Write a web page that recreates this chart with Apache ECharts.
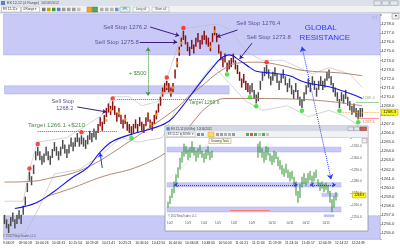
<!DOCTYPE html>
<html>
<head>
<meta charset="utf-8">
<script src="https://cdn.jsdelivr.net/npm/echarts@6/dist/echarts.min.js"></script>
<style>
html,body{margin:0;padding:0;background:#ffffff;}
#chart{width:400px;height:250px;}
</style>
</head>
<body>
<div id="chart"></div>
<script>
// ================= DATA =================
const xTickLabels = ['9:46:09','09:56:18','10:00:26','10:03:31','10:15:54','10:19:09','10:21:41','10:25:21','10:34:16','10:42:50','10:44:00','10:46:08','10:48:00','10:50:03','11:01:21','11:11:34','11:19:09','11:24:10','11:40:17','12:04:59','12:14:22','12:24:39'];
const xTickFirst = 2, xTickStep = 8;
const slotCount = 181;
const rangeSize = 1.0;          // 4 Range bars: every bar spans 1.0 point
const barLows = [
1256.0,1255.5,1255.0,1255.75,1256.25,1255.5,1256.0,1256.5,1256.0,1257.0,
1258.0,1259.5,1260.75,1260.25,1261.5,1263.0,1263.5,1263.0,1262.5,1262.75,
1263.5,1263.0,1262.5,1263.25,1264.0,1263.5,1263.0,1263.5,1264.25,1263.75,
1263.25,1263.75,1264.5,1264.0,1264.5,1265.0,1264.5,1264.75,1264.5,1264.25,
1264.75,1265.25,1265.0,1265.5,1265.25,1266.0,1266.75,1266.25,1267.0,1267.75,
1268.25,1268.0,1268.5,1268.0,1267.25,1267.75,1267.0,1266.5,1267.0,1266.25,
1266.0,1265.75,1266.0,1266.5,1266.0,1266.75,1266.25,1266.0,1266.75,1267.25,
1266.5,1266.25,1267.0,1267.5,1268.25,1269.0,1270.0,1270.5,1270.75,1270.5,
1270.0,1270.5,1272.0,1273.25,1274.5,1275.5,1276.25,1275.75,1275.0,1274.5,
1275.25,1274.75,1275.5,1276.0,1275.25,1275.75,1276.25,1275.75,1275.5,1275.0,
1276.0,1276.75,1276.0,1274.75,1274.0,1273.25,1273.75,1272.75,1273.0,1273.25,
1273.75,1273.0,1272.5,1271.75,1271.0,1271.5,1270.75,1270.5,1270.25,1270.5,
1269.75,1269.25,1269.5,1270.75,1271.75,1272.25,1272.5,1272.0,1271.25,1271.75,
1272.25,1271.5,1270.75,1271.5,1272.0,1271.25,1270.5,1271.0,1270.25,1269.75,
1270.5,1269.75,1269.0,1268.75,1269.5,1270.25,1271.0,1270.5,1271.25,1270.75,
1270.0,1270.75,1271.25,1270.75,1271.0,1271.75,1272.0,1271.25,1270.5,1270.0,
1269.5,1268.75,1269.5,1269.25,1269.75,1269.0,1268.5,1268.0,1268.25,1267.75,
1267.5,1267.75,1267.75
];
const longFrom = 45, longTo = 117;     // dark red (in-trade) bars
const lastPrice = 1268.3;
const orangeDots = [[49,1267.4],[51,1268.5],[55,1268.2],[58,1267.5],[70,1267.0],[73,1268.0],[76,1270.4],[78,1271.1],[80,1270.5],[81,1271.0],[83,1273.7],[84,1275.0],[85,1275.9],[99,1275.5],[101,1277.2]];
const redDots = [[12,1262.1],[16,1264.8],[37,1266.1],[52,1269.8],[78,1272.1],[86,1277.55],[126,1273.8]];
const greenDots = [[61,1265.45],[107,1272.45],[118,1269.95],[121,1268.95],[143,1268.45],[161,1268.45],[170,1267.2]];
const maBlue = [[5,1257.7],[15,1258.3],[24,1259.6],[32,1261.0],[40,1262.2],[46,1263.9],[52,1265.1],[63,1266.0],[71,1266.5],[79,1267.3],[85,1268.8],[90,1270.3],[95,1271.8],[100,1273.2],[104,1274.2],[108,1274.6],[113,1274.0],[118,1273.2],[121,1272.8],[128,1272.6],[137,1272.3],[143,1271.7],[148,1271.4],[156,1271.1],[163,1270.6],[169,1270.1],[172,1269.8]];
const maBrownFast = [[0,1260.6],[14,1260.7],[23,1261.1],[33,1261.6],[43,1262.6],[51,1263.7],[57,1264.6],[71,1266.8],[83,1268.8],[90,1270.3],[95,1271.2],[103,1272.7],[112,1273.7],[122,1273.8],[134,1273.4],[143,1272.9],[162,1272.6],[172,1272.3]];
const maBrownSlow = [[20,1259.0],[32,1259.9],[47,1261.2],[63,1262.2],[78,1263.9],[85,1265.6],[92,1267.6],[98,1269.0],[106,1269.8],[119,1269.8],[143,1269.7],[159,1269.4],[172,1269.0]];
const chanUpper = [[0,1258.5],[9,1258.5],[12,1262],[16,1265],[30,1265.5],[37,1266.5],[47,1268],[52,1270],[60,1270],[66,1269],[74,1269.5],[78,1272],[84,1276],[86,1277.5],[102,1278],[108,1277.5],[116,1275],[124,1274],[134,1274],[148,1272.5],[156,1273.2],[166,1272.5],[172,1271]];
const chanLower = [[0,1254.8],[10,1255],[16,1257.5],[24,1261.5],[36,1262],[46,1263.5],[56,1265.5],[64,1265],[76,1265.5],[82,1268.5],[90,1270.5],[100,1273.5],[108,1271.5],[116,1269.5],[124,1268.5],[136,1269],[146,1267.8],[156,1268.5],[164,1267.8],[172,1266.5]];

// inset (multi-day chart)
const insetSlots = 87;
const insetTickIdx = [1,10,18,25,33,42,52,61,69,79];
const insetTickLabels = ['10/2','10/3','10/4','10/5','10/8','10/9','10/10','10/11','10/12','10/15'];
const insetLows = [1258,1261,1266,1270,1276,1283,1290,1296,1301,1303,1298,1300,1304,1302,1297,1300,1303,1300,1296,1299,1302,1298,1300,
null,null,null,null,null,null,null,null,null,null,null,null,null,null,null,null,null,null,null,null,null,null,
1300,1304,1300,1296,1298,1302,1297,1294,1296,1299,1293,1290,
1286,1284,1287,1283,1280,1282,1276,1268,1262,1266,
1275,1278,1276,1279,1281,1277,1280,1283,
1276,1272,1274,1271,1273,1270,1262,1254,1258,1264];
const insetHighs = [1263,1268,1274,1280,1286,1292,1300,1305,1312,1310,1307,1309,1314,1309,1306,1308,1311,1306,1304,1307,1310,1305,1306,
null,null,null,null,null,null,null,null,null,null,null,null,null,null,null,null,null,null,null,null,null,null,
1312,1314,1308,1305,1310,1309,1304,1302,1306,1305,1301,1298,
1294,1291,1295,1290,1288,1289,1284,1280,1272,1278,
1284,1287,1283,1287,1289,1285,1288,1290,
1282,1279,1280,1278,1279,1277,1272,1265,1268,1271];

// ================= STYLE / BUILD =================
const FONT = 'Liberation Sans';
const BAND = '#c9c9f8', BAND_EDGE = '#a9a9ee';
const PURPLE_T = '#5f5192', PURPLE_A = '#3b1d7c', GREEN_T = '#4f8c4f', BLUE_T = '#2c3cf5';

const mainCats = Array.from({length: slotCount}, (_, i) => String(i));
const insetCats = Array.from({length: insetSlots}, (_, i) => String(i));
const barData = barLows.map((lo, i) => [i, lo, lo + rangeSize, (i >= longFrom && i <= longTo) ? 1 : 0]);
const insetData = [];
insetLows.forEach((lo, j) => { if (lo !== null) insetData.push([j, lo, insetHighs[j]]); });

function mainBar(params, api) {
  const a = api.coord([api.value(0), api.value(1)]);
  const b = api.coord([api.value(0), api.value(2)]);
  return {type: 'line', shape: {x1: a[0], y1: a[1], x2: b[0], y2: b[1]},
    style: {stroke: api.value(3) ? '#8c1111' : '#4c4c4c', lineWidth: 1.5}};
}
function insetBar(params, api) {
  const a = api.coord([api.value(0), api.value(1)]);
  const b = api.coord([api.value(0), api.value(2)]);
  return {type: 'line', shape: {x1: a[0], y1: a[1], x2: b[0], y2: b[1]},
    style: {stroke: '#2b8f2b', lineWidth: 1.0}};
}

function label(text, i, price, color, size) {
  return {coord: [i, price], symbol: 'rect', symbolSize: 1, itemStyle: {color: 'rgba(0,0,0,0)'},
    label: {show: true, position: 'inside', formatter: text, color: color, fontSize: size, fontFamily: FONT}};
}
function arrow(from, to, color, type, both) {
  return [{coord: from, symbol: both ? 'arrow' : 'none', lineStyle: {color: color, width: 1, type: type || 'solid'}},
          {coord: to, symbol: 'arrow'}];
}
function hline(i0, i1, price, color, type, w) {
  return [{coord: [i0, price], symbol: 'none', lineStyle: {color: color, width: w || 0.8, type: type || 'solid'}},
          {coord: [i1, price], symbol: 'none'}];
}

// chrome helpers
function R(x, y, w, h, fill, stroke, z, lw) {
  return {type: 'rect', shape: {x: x, y: y, width: w, height: h}, z: z, silent: true,
    style: {fill: fill, stroke: stroke || null, lineWidth: lw || 0.5}};
}
function T(x, y, s, size, color, z, align) {
  return {type: 'text', x: x, y: y, z: z, silent: true,
    style: {text: s, fontSize: size, fill: color, fontFamily: FONT, textAlign: align || 'left', textVerticalAlign: 'middle', verticalAlign: 'middle'}};
}

const chrome = [];
// main window title bar + toolbar
chrome.push(R(0, 0, 400, 6, '#dde2ea', null, 40));
chrome.push(R(1, 1, 4, 4, '#5b83c4', null, 41));
chrome.push(T(7, 3.2, 'ES 12-12 (4 Range)  10/16/2012', 3.6, '#4a4a4a', 41));
chrome.push(R(374, 0.8, 7, 4.6, '#e4e7ec', '#8a8f99', 41));
chrome.push(R(382, 0.8, 7, 4.6, '#e4e7ec', '#8a8f99', 41));
chrome.push(R(390, 0.8, 8, 4.6, '#e4e7ec', '#8a8f99', 41));
chrome.push(R(0, 6, 400, 7, '#f1f2f4', null, 40));
chrome.push(R(0, 12.6, 400, 0.6, '#a9adb5', null, 41));
chrome.push(R(1.5, 7, 19, 5, '#ffffff', '#9aa0a8', 41));
chrome.push(T(3, 9.6, 'ES 12-12 ▾', 3, '#333', 42));
chrome.push(R(21.5, 7, 18, 5, '#ffffff', '#9aa0a8', 41));
chrome.push(T(23, 9.6, '4 Range ▾', 3, '#333', 42));
[[42,'#7a7a7a'],[47,'#c8a000'],[52,'#3a9a3a'],[57,'#5a7aca'],[62,'#9a9a9a'],[67,'#a0a0a0'],[72,'#9a9a9a'],[77,'#c0c0c0'],
 [100,'#b0b0b0'],[105,'#b0b0b0'],[110,'#b8b8b8'],[115,'#7090d0']].forEach(p => chrome.push(R(p[0], 7.7, 3.5, 3.5, p[1], null, 41)));
chrome.push(R(87, 7, 5, 5, '#f3a42a', '#c07a10', 41));
chrome.push(R(92.5, 7, 5, 5, '#4caf50', '#2e7d32', 41));
chrome.push(R(120, 7, 10, 5, '#e6f4f4', '#6699aa', 41));
chrome.push(T(125, 9.6, 'SPL', 3, '#337777', 42, 'center'));
chrome.push(R(133, 7, 16, 5, '#f7f7f7', '#aaaaaa', 41));
chrome.push(T(141, 9.6, 'Long all', 3, '#555', 42, 'center'));
chrome.push(R(152, 7, 17, 5, '#f7f7f7', '#aaaaaa', 41));
chrome.push(T(160.5, 9.6, 'Short all', 3, '#555', 42, 'center'));
chrome.push(R(392, 13.5, 7, 5.5, '#efefef', '#888888', 41));
chrome.push(T(395.5, 16.3, '▾', 4, '#333', 42, 'center'));
chrome.push(T(371.5, 18, '▷|', 5, '#9c9cc4', 41));
chrome.push(T(3, 236, '© 2012 NinjaTrader, LLC', 3, '#555', 41));
// inset window
chrome.push(R(165, 126, 203, 105, '#ffffff', '#7d8797', 20, 0.7));
chrome.push(R(165.4, 126.4, 202.2, 5, '#d3dae5', null, 20));
chrome.push(R(166.5, 127.2, 3.2, 3.2, '#5b83c4', null, 20));
chrome.push(T(171, 128.9, 'ES 12-12 (60 Min)  10/16/2012', 3, '#444', 20));
chrome.push(R(348, 127, 5.5, 3.6, '#e4e7ec', '#8a8f99', 20));
chrome.push(R(354, 127, 5.5, 3.6, '#e4e7ec', '#8a8f99', 20));
chrome.push(R(360, 127, 6.5, 3.6, '#d8584f', '#8a3a33', 20));
chrome.push(R(165.4, 131.4, 202.2, 6.4, '#f1f2f4', null, 20));
chrome.push(R(165.4, 137.5, 202.2, 0.5, '#b5b9c0', null, 20));
chrome.push(R(167, 132.2, 14, 4.6, '#ffffff', '#9aa0a8', 20));
chrome.push(T(168, 134.6, 'ES 12-12 ▾', 2.6, '#333', 20));
chrome.push(R(182, 132.2, 13, 4.6, '#ffffff', '#9aa0a8', 20));
chrome.push(T(183, 134.6, '60 Min ▾', 2.6, '#333', 20));
[[197,'#8a8a8a'],[201,'#7a9ad0'],[216,'#a0a0a0'],[220,'#a0a0a0'],[224,'#b0b0b0'],[228,'#b0b0b0'],[232,'#9a9a9a'],
 [246,'#4caf50'],[250,'#e05050'],[254,'#4caf50'],[258,'#c8c8c8'],[262,'#4caf50'],[266,'#c8c8c8']].forEach(p => chrome.push(R(p[0], 133, 3, 3, p[1], null, 20)));
chrome.push(R(208, 132.2, 6, 4.6, '#ffd966', '#d4a017', 20));
chrome.push(R(362, 138.5, 5, 4.5, '#efefef', '#888888', 24));
chrome.push(R(209, 138.5, 22, 5, '#ffffe1', '#767676', 25, 0.4));
chrome.push(T(220, 141, 'Drawing Tools', 2.8, '#333', 25, 'center'));
chrome.push(T(168, 216.5, '© 2012 NinjaTrader, LLC', 2.6, '#555', 25));

const option = {
  animation: false,
  textStyle: {fontFamily: FONT},
  grid: [
    {left: 0, top: 14, right: 20, bottom: 11},
    {left: 167, top: 138, width: 174, height: 81}
  ],
  xAxis: [
    {type: 'category', gridIndex: 0, data: mainCats, boundaryGap: true,
     axisLine: {show: true, lineStyle: {color: '#c0c0c0', width: 0.6}},
     axisTick: {show: false}, splitLine: {show: false},
     axisLabel: {interval: (idx) => idx >= xTickFirst && (idx - xTickFirst) % xTickStep === 0 && (idx - xTickFirst) / xTickStep < xTickLabels.length,
       formatter: (v, idx) => xTickLabels[(idx - xTickFirst) / xTickStep] || '',
       fontSize: 3.4, color: '#222', margin: 2.5, fontFamily: FONT}},
    {type: 'category', gridIndex: 1, data: insetCats, boundaryGap: true, z: 21,
     axisLine: {show: false}, axisTick: {show: false}, splitLine: {show: false},
     axisLabel: {interval: (idx) => insetTickIdx.indexOf(idx) >= 0,
       formatter: (v, idx) => { const k = insetTickIdx.indexOf(idx); return k >= 0 ? insetTickLabels[k] : ''; },
       fontSize: 3, color: '#555', margin: 2.5, fontFamily: FONT}}
  ],
  yAxis: [
    {type: 'value', gridIndex: 0, position: 'right', min: 1254.34, max: 1279.1, splitNumber: 25, scale: true,
     axisLine: {show: true, lineStyle: {color: '#bdbdbd', width: 0.6}},
     axisTick: {show: true, length: 2, lineStyle: {color: '#777', width: 0.5}},
     splitLine: {show: false},
     axisLabel: {fontSize: 4.2, color: '#333', margin: 1.5, fontFamily: FONT,
       formatter: (v) => (Math.abs(v - Math.round(v)) < 1e-6 && v <= 1278.5) ? v.toFixed(1) : ''}},
    {type: 'value', gridIndex: 1, position: 'right', min: 1248.31, max: 1316.76, splitNumber: 7, scale: true, offset: 9, z: 21,
     axisLine: {show: false},
     axisTick: {show: true, length: 2, lineStyle: {color: '#888', width: 0.5}},
     splitLine: {show: false},
     axisLabel: {fontSize: 3.2, color: '#555', margin: 2, fontFamily: FONT,
       formatter: (v) => (Math.abs(v / 10 - Math.round(v / 10)) < 1e-6 && v <= 1310) ? v.toFixed(1) : ''}}
  ],
  series: [
    {type: 'custom', name: 'bars', xAxisIndex: 0, yAxisIndex: 0, z: 3, renderItem: mainBar, data: barData,
     encode: {x: 0, y: [1, 2]},
     markArea: {silent: true, itemStyle: {color: BAND, borderColor: BAND_EDGE, borderWidth: 0.5},
       data: [
         [{yAxis: 1274.6}, {yAxis: 1279.1}],
         [{coord: [0, 1271.2]}, {coord: [108, 1270.3]}],
         [{yAxis: 1254.34}, {yAxis: 1256.9}]
       ]}},
    {type: 'line', name: 'chanUpper', data: chanUpper, showSymbol: false, z: 2, silent: true,
     lineStyle: {color: '#b8b8b8', width: 0.6}},
    {type: 'line', name: 'chanLower', data: chanLower, showSymbol: false, z: 2, silent: true,
     lineStyle: {color: '#b8b8b8', width: 0.6}},
    {type: 'line', name: 'maBrownSlow', data: maBrownSlow, showSymbol: false, smooth: 0.4, z: 4, silent: true,
     lineStyle: {color: '#a67c64', width: 0.9}},
    {type: 'line', name: 'maBrownFast', data: maBrownFast, showSymbol: false, smooth: 0.4, z: 4, silent: true,
     lineStyle: {color: '#a67c64', width: 0.9},
     markLine: {z: 30, silent: true, symbolSize: 5, label: {show: false},
       data: [arrow([143, 1275.5], [157, 1260.9], BLUE_T, 'dotted', true)]}},
    {type: 'line', name: 'maBlue', data: maBlue, showSymbol: false, smooth: 0.4, z: 5, silent: true,
     lineStyle: {color: '#1414f0', width: 1.1},
     markLine: {silent: true, symbolSize: 4, label: {show: false},
       data: [
         arrow([70, 1277.67], [84, 1276.7], PURPLE_A),
         arrow([65, 1276.02], [83, 1276.02], PURPLE_A),
         arrow([112, 1277.34], [102, 1276.57], PURPLE_A),
         arrow([119, 1275.9], [113, 1274.15], PURPLE_A),
         arrow([35, 1268.87], [49, 1268.32], PURPLE_A),
         arrow([47, 1262.15], [46, 1263.8], '#1f3bd8'),
         arrow([69, 1275.4], [69, 1270.1], '#3f8f3f', 'dotted', true),
         hline(16, 54, 1266.25, '#3f8f3f', 'dotted', 1),
         hline(54, 96, 1269.75, '#3f8f3f', 'dotted', 1),
         hline(169, 180, 1269.4, '#86c586', 'solid', 0.8),
         hline(170, 180, 1267.6, '#ff7a7a', 'solid', 0.8),
         hline(162, 180, lastPrice, '#f0a030', 'dotted', 0.8)
       ]},
     markPoint: {silent: true, z: 6,
       data: [
         label('Sell Stop 1276.2', 58, 1277.67, PURPLE_T, 6),
         label('Sell Stop 1275.8', 54, 1276.02, PURPLE_T, 6),
         label('Sell Stop 1276.4', 122, 1278.1, PURPLE_T, 6),
         label('Sell Stop 1273.8', 127, 1276.57, PURPLE_T, 6),
         label('GLOBAL', 152, 1277.56, BLUE_T, 8),
         label('RESISTANCE', 154, 1276.46, BLUE_T, 8),
         label('+ $500', 64, 1272.6, GREEN_T, 5.8),
         label('Target 1266.1 +$210', 25, 1266.9, GREEN_T, 6.2),
         label('Sell Stop', 28, 1269.5, PURPLE_T, 5.6),
         label('1268.2', 29, 1268.76, PURPLE_T, 5.6),
         label('Target 1269.6', 96, 1269.3, GREEN_T, 5),
         label('1269.4', 175, 1269.85, '#7fb87f', 4),
         label('1267.6', 175, 1267.2, '#ff7070', 4)
       ]}},
    {type: 'scatter', name: 'orange', data: orangeDots, symbolSize: 3, z: 6, silent: true,
     itemStyle: {color: '#ffa21a'}},
    {type: 'scatter', name: 'swingHigh', data: redDots, symbolSize: 4.5, z: 6, silent: true,
     itemStyle: {color: '#ff1a1a'}},
    {type: 'scatter', name: 'swingLow', data: greenDots, symbolSize: 4.5, z: 6, silent: true,
     itemStyle: {color: '#22dd22'}},
    {type: 'custom', name: 'inset', xAxisIndex: 1, yAxisIndex: 1, z: 22, renderItem: insetBar, data: insetData,
     encode: {x: 0, y: [1, 2]},
     markArea: {z: 21, silent: true, itemStyle: {color: BAND, borderColor: BAND_EDGE, borderWidth: 0.5},
       data: [
         [{yAxis: 1309}, {yAxis: 1305}],
         [{yAxis: 1279}, {yAxis: 1275.4}],
         [{coord: [77, 1270]}, {coord: [85, 1267.5]}],
         [{yAxis: 1258.5}, {yAxis: 1254.3}],
         [{coord: [78, 1251.8]}, {coord: [83, 1250.2]}]
       ]},
     markLine: {z: 23, silent: true, symbolSize: 4, label: {show: false},
       data: [
         [{xAxis: 25, symbol: 'none', lineStyle: {color: '#c8c8c8', width: 0.5, type: 'solid'}}, {xAxis: 25, symbol: 'none'}],
         [{xAxis: 31, symbol: 'none', lineStyle: {color: '#c8c8c8', width: 0.5, type: 'solid'}}, {xAxis: 31, symbol: 'none'}],
         [{coord: [1, 1283], symbol: 'none', lineStyle: {color: '#bbbbbb', width: 0.5, type: 'dashed'}}, {coord: [22, 1315], symbol: 'none'}],
         hline(31, 51, 1255.3, '#ff7a7a', 'solid', 1),
         arrow([3, 1277.2], [65, 1277.2], '#2c3cf5', 'dotted', true),
         arrow([71, 1277.2], [84, 1277.2], '#2c3cf5', 'dotted', true)
       ]}}
  ],
  graphic: {elements: chrome}
};

const chart = echarts.init(document.getElementById('chart'), null, {renderer: 'canvas', width: 400, height: 250});
chart.setOption(option);

// current-price tags on both price axes
const yM = chart.convertToPixel({yAxisIndex: 0}, lastPrice);
const yI = chart.convertToPixel({yAxisIndex: 1}, lastPrice);
const tags = [
  R(381.5, yM - 3, 16.5, 6, '#ffff00', '#a89a00', 41, 0.5),
  T(389.7, yM + 0.2, lastPrice.toFixed(1), 4.2, '#000', 42, 'center'),
  R(352.5, yI - 2.5, 13.5, 5, '#ffff00', '#a89a00', 24, 0.5),
  T(359.2, yI + 0.2, lastPrice.toFixed(1), 3.2, '#000', 25, 'center')
];
chart.setOption({graphic: {elements: chrome.concat(tags)}});
</script>
</body>
</html>
